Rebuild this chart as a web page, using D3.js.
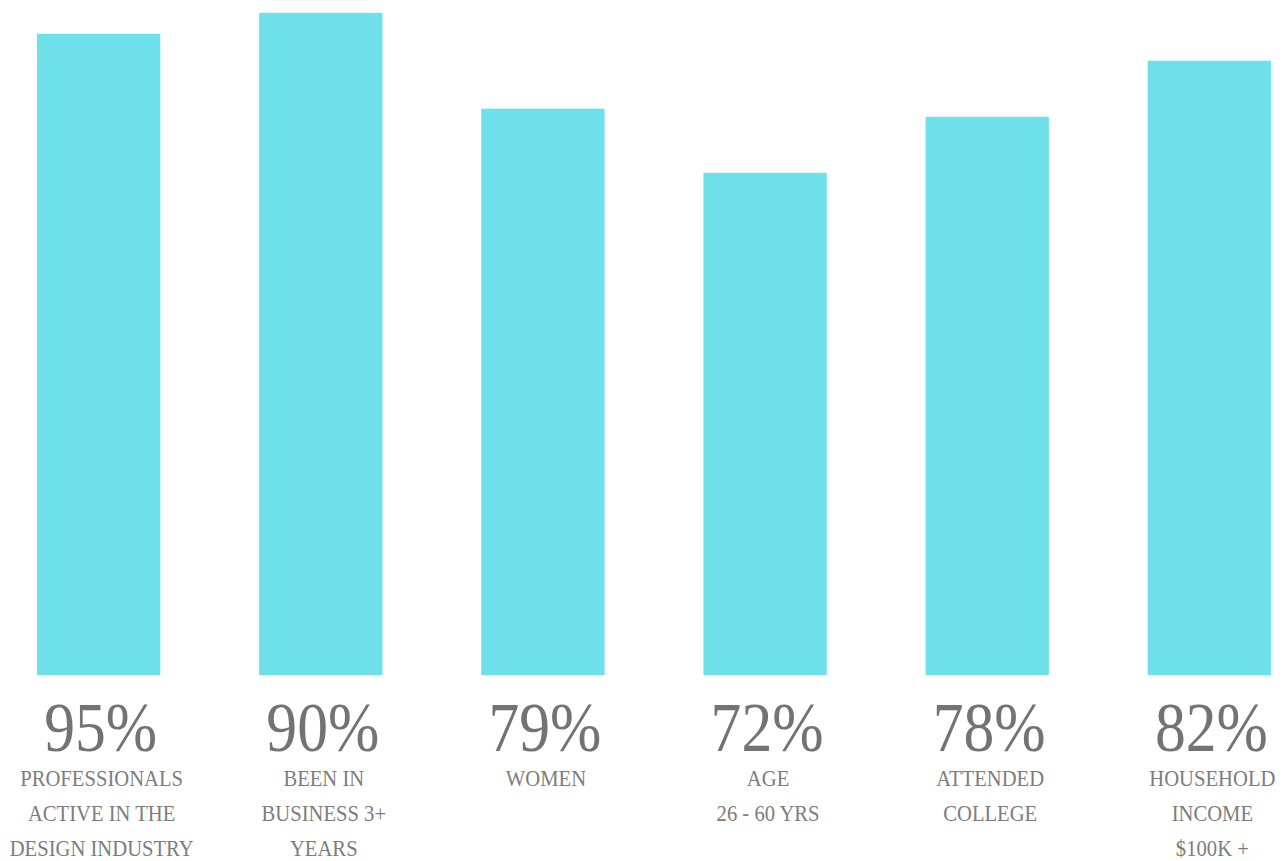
<!DOCTYPE html>
<html>
<head>
	<meta http-equiv='Content-Type' content='text/html;charset=utf-8'/>
	<title>Audience Profile</title>
	<script src='https://d3js.org/d3.v7.min.js'></script>
	<style>
		body { margin: 0; background: #ffffff; }
		text { font-family: 'Liberation Serif', 'DejaVu Serif', serif; }
	</style>
</head>
<body>
<script>
'use strict'
// percentages printed under each bar
const percents = [95, 90, 79, 72, 78, 82]
// bar heights as drawn in the picture (same 0-100 scale, they don't follow the labels exactly)
const barLevels = [95, 98.1, 83.9, 74.4, 82.7, 91]
// caption lines under each percentage
const captions = [
	['PROFESSIONALS', 'ACTIVE IN THE', 'DESIGN INDUSTRY'],
	['BEEN IN', 'BUSINESS 3+', 'YEARS'],
	['WOMEN'],
	['AGE', '26 - 60 YRS'],
	['ATTENDED', 'COLLEGE'],
	['HOUSEHOLD', 'INCOME', '$100K +']
]
const keys = d3.range(percents.length)

const width = 1287
const height = 861
const baseline = 675

const svg = d3.select('body').append('svg')
	.attr('width', width)
	.attr('height', height)

svg.append('rect')
	.attr('width', '100%')
	.attr('height', '100%')
	.attr('fill', '#ffffff')

const x = d3.scaleBand()
	.domain(keys)
	.range([37, 1271])
	.paddingInner(0.445)
	.paddingOuter(0)

const y = d3.scaleLinear()
	.domain([0, 100])
	.range([baseline, 0])

// bars
svg.append('g')
	.selectAll('rect')
	.data(keys)
	.join('rect')
	.attr('x', d => x(d))
	.attr('width', x.bandwidth())
	.attr('y', d => y(barLevels[d]))
	.attr('height', d => baseline - y(barLevels[d]))
	.attr('fill', '#6de0ea')

// big percentage labels
svg.append('g')
	.selectAll('text')
	.data(keys)
	.join('text')
	.attr('transform', d => `translate(${x(d) + x.bandwidth() / 2 + 2},751) scale(0.88,1)`)
	.attr('text-anchor', 'middle')
	.attr('font-size', 70)
	.attr('fill', '#737373')
	.text(d => percents[d] + '%')

// captions
const cap = svg.append('g')
	.selectAll('g')
	.data(keys)
	.join('g')

cap.selectAll('text')
	.data(d => captions[d].map((t, i) => ({ k: d, t: t, i: i })))
	.join('text')
	.attr('transform', c => `translate(${x(c.k) + x.bandwidth() / 2 + 3},${786 + c.i * 35}) scale(0.86,1)`)
	.attr('text-anchor', 'middle')
	.attr('font-size', 24)
	.attr('fill', '#7d7d7d')
	.text(c => c.t)
</script>
</body>
</html>
